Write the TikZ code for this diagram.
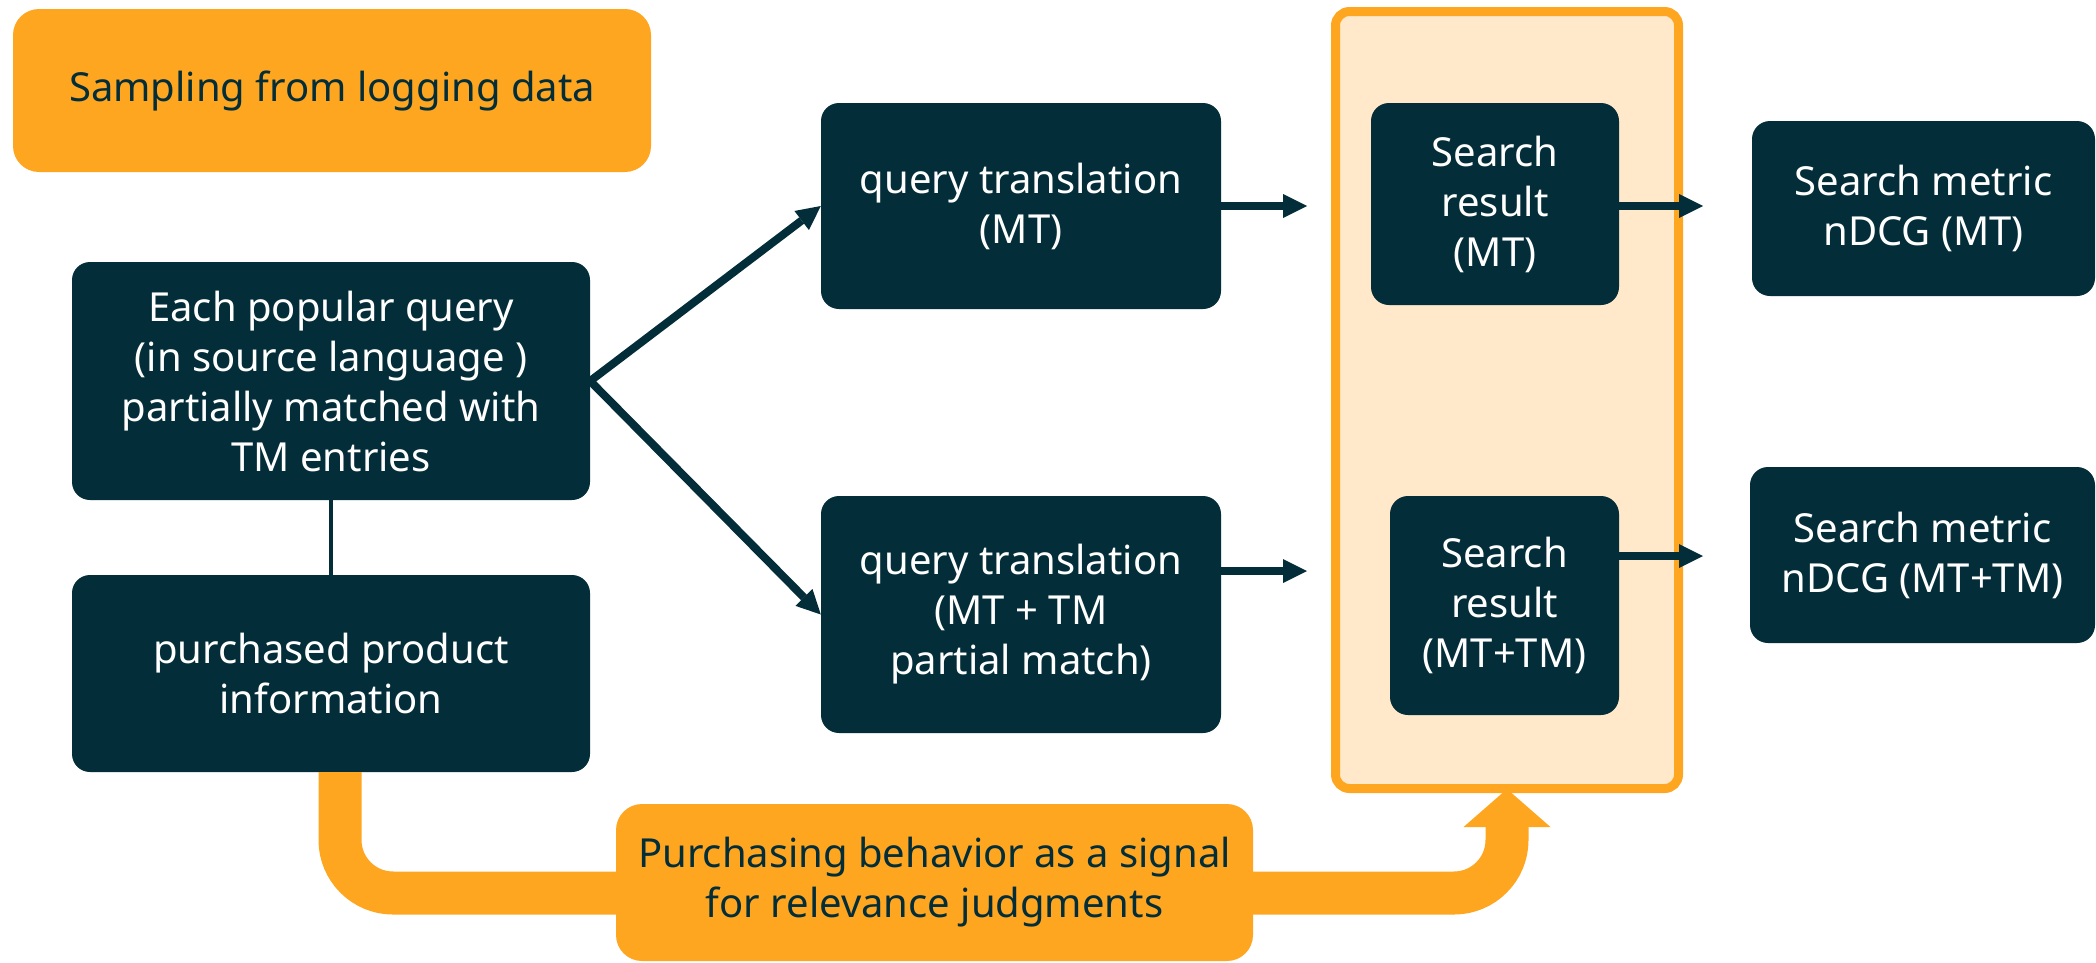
\documentclass[tikz,border=0pt]{standalone}
\usepackage{fontspec}
\setmainfont{Noto Sans}
\usetikzlibrary{arrows.meta}
\definecolor{ink}{RGB}{3,45,56}
\definecolor{amber}{RGB}{255,166,33}
\definecolor{peach}{RGB}{255,233,202}
\begin{document}
\begin{tikzpicture}[x=1pt,y=-1pt,
  txt/.style={align=center, inner sep=0pt, font=\fontsize{40pt}{50pt}\selectfont},
  box/.style={txt, fill=ink, text=white, rounded corners=18pt},
  tag/.style={txt, fill=amber, text=ink, rounded corners=26pt},
  panelbox/.style={fill=peach, draw=amber, line width=9pt, rounded corners=14pt, inner sep=0pt},
  arr/.style={draw=ink, line width=8pt, -{Triangle[length=24pt,width=24pt,line width=0pt]}},
  band/.style={draw=amber, line width=43pt, rounded corners=53pt, -{Triangle[length=38pt,width=87pt,line width=0pt]}},
]
\useasboundingbox (0,0) rectangle (2096,962);

% header tag
\node[tag, minimum width=638pt, minimum height=163pt] (sampling) at (332,90.5) {Sampling from logging data};

% inputs
\node[box, minimum width=518pt, minimum height=238pt] (query) at (331,381)
  {Each popular query\\ (in source language )\\partially matched with\\TM entries};
\node[box, minimum width=518pt, minimum height=197pt] (purchase) at (331,673.5)
  {purchased product\\information};
\draw[ink, line width=4.5pt] (query.south) -- (purchase.north);

% translation variants
\node[box, minimum width=400pt, minimum height=206pt] (qt1) at (1021,206)
  {query translation\\(MT)};
\node[box, minimum width=400pt, minimum height=237pt] (qt2) at (1021,614.5)
  {query translation\\(MT + TM\\partial match)};

% search results panel
\node[panelbox, minimum width=343pt, minimum height=777pt] (panel) at (1507,400) {};
\node[box, minimum width=248pt, minimum height=202pt] (sr1) at (1495,204)
  {Search\\result\\(MT)};
\node[box, minimum width=229pt, minimum height=219pt] (sr2) at (1504.5,605.5)
  {Search\\result\\(MT+TM)};

% metrics
\node[box, minimum width=343pt, minimum height=175pt] (m1) at (1923.5,208.5)
  {Search metric\\nDCG (MT)};
\node[box, minimum width=345pt, minimum height=176pt] (m2) at (1922.5,555)
  {Search metric\\nDCG (MT+TM)};

% flow arrows
\draw[arr] (query.east) -- (qt1.west);
\draw[arr] (query.east) -- (qt2.west);
\coordinate (a1) at (1307,206);
\coordinate (a2) at (1307,571);
\coordinate (a3) at (1703,206);
\coordinate (a4) at (1703,556);
\draw[arr] (qt1.east |- a1) -- (a1);
\draw[arr] (qt2.east |- a2) -- (a2);
\draw[arr] (sr1.east |- a3) -- (a3);
\draw[arr] (sr2.east |- a4) -- (a4);

% relevance signal band
\draw[band] ([xshift=9pt]purchase.south) -- (340,893) -- (1507,893) -- ([yshift=4pt]panel.south);
\node[tag, minimum width=637pt, minimum height=157pt] (signal) at (934.5,882.5)
  {Purchasing behavior as a signal\\for relevance judgments};
\end{tikzpicture}
\end{document}
